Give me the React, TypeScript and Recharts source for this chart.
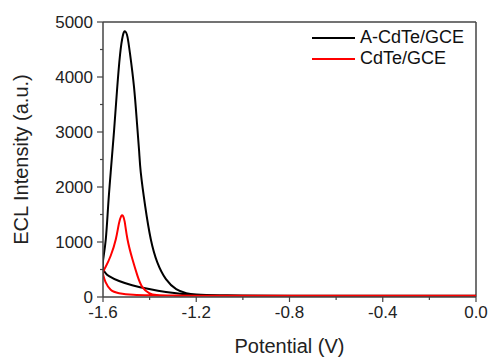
import React from "react";
import { LineChart, Line, XAxis, YAxis, ReferenceLine } from "recharts";

// A-CdTe/GCE: lower return branch (0 -> -1.6), then the peak branch (-1.6 -> 0)
const aPotential = [
  0.0, -0.4, -0.8, -1.0, -1.1, -1.19, -1.26, -1.33, -1.402, -1.475, -1.531,
  -1.574, -1.59, -1.6, -1.6, -1.599, -1.588, -1.578, -1.567, -1.553, -1.54,
  -1.527, -1.515, -1.505, -1.495, -1.484, -1.467, -1.454, -1.445, -1.438,
  -1.419, -1.395, -1.367, -1.33, -1.286, -1.243, -1.2, -1.1, -1.0, -0.8, -0.4,
  0.0,
];
const aIntensity = [
  25, 25, 25, 28, 32, 40, 55, 90, 145, 215, 290, 380, 440, 520, 620, 690, 1050,
  1650, 2265, 3000, 3750, 4400, 4750, 4830, 4730, 4420, 3820, 3150, 2650, 2265,
  1650, 1050, 630, 325, 145, 70, 45, 32, 28, 25, 25, 25,
];

// CdTe/GCE
const cPotential = [
  0.0, -0.4, -0.8, -1.2, -1.3, -1.4, -1.47, -1.531, -1.567, -1.589, -1.598,
  -1.6, -1.589, -1.567, -1.545, -1.532, -1.522, -1.515, -1.507, -1.495, -1.474,
  -1.452, -1.431, -1.402, -1.37, -1.3, -1.2, -0.8, 0.0,
];
const cIntensity = [
  22, 22, 22, 24, 27, 30, 40, 70, 130, 270, 380, 450, 545, 750, 1050, 1330,
  1470, 1480, 1370, 1050, 690, 385, 180, 70, 35, 25, 23, 22, 22,
];

const xTicks = [-1.6, -1.4, -1.2, -1.0, -0.8, -0.6, -0.4, -0.2, 0.0];
const xLabels = ["-1.6", "-1.2", "-0.8", "-0.4", "0.0"];
const yTicks = [0, 500, 1000, 1500, 2000, 2500, 3000, 3500, 4000, 4500, 5000];
const seriesNames = ["A-CdTe/GCE", "CdTe/GCE"];
const seriesColors = ["#000000", "#ff0000"];

const seriesA = aPotential.map((p, i) => ({ x: p, y: aIntensity[i] }));
const seriesC = cPotential.map((p, i) => ({ x: p, y: cIntensity[i] }));

const FONT = "'Liberation Sans', Arial, sans-serif";
const AXIS = "#444";

const XTick = (props: any) => {
  const { x, y, payload } = props;
  const v = payload.value as number;
  const label = v === 0 ? "0.0" : v.toFixed(1);
  const major = xLabels.includes(label);
  return (
    <g>
      <line x1={x} x2={x} y1={y} y2={y + (major ? 5 : 3)} stroke={AXIS} strokeWidth={1.2} />
      {major && (
        <text x={x} y={y + 21} textAnchor="middle" fontSize={17} fill="#222" fontFamily={FONT}>
          {label}
        </text>
      )}
    </g>
  );
};

const YTick = (props: any) => {
  const { x, y, payload } = props;
  const v = payload.value as number;
  const major = v % 1000 === 0;
  return (
    <g>
      <line x1={x} x2={x - (major ? 6 : 3)} y1={y} y2={y} stroke={AXIS} strokeWidth={1.2} />
      {major && (
        <text x={x - 10} y={y + 5.5} textAnchor="end" fontSize={17} fill="#222" fontFamily={FONT}>
          {v}
        </text>
      )}
    </g>
  );
};

const ChartLegend = () => (
  <div style={{ position: "absolute", top: 27, left: 312, fontFamily: FONT }}>
    {seriesNames.map((name, i) => (
      <div key={name} style={{ display: "flex", alignItems: "center", height: 21 }}>
        <div style={{ width: 43, height: 2, background: seriesColors[i], marginRight: 5 }} />
        <span style={{ fontSize: 18, color: "#111", lineHeight: "21px" }}>{name}</span>
      </div>
    ))}
  </div>
);

export default function App() {
  return (
    <div style={{ position: "absolute", left: 0, top: 0, width: 490, height: 358 }}>
      <LineChart
        width={490}
        height={358}
        margin={{ top: 22, right: 14, bottom: 0, left: 0 }}
        style={{ fontFamily: FONT }}
      >
        <XAxis
          type="number"
          dataKey="x"
          domain={[-1.6, 0]}
          ticks={xTicks}
          tick={<XTick />}
          tickSize={0}
          tickMargin={0}
          tickLine={false}
          axisLine={{ stroke: AXIS, strokeWidth: 1.5 }}
          height={61}
          allowDataOverflow
          label={{
            value: "Potential (V)",
            position: "insideBottom",
            offset: 5,
            style: { fontSize: 20, fill: "#222", fontFamily: FONT },
          }}
        />
        <YAxis
          type="number"
          dataKey="y"
          domain={[0, 5000]}
          ticks={yTicks}
          tick={<YTick />}
          tickSize={0}
          tickMargin={0}
          tickLine={false}
          axisLine={{ stroke: AXIS, strokeWidth: 1.5 }}
          width={103}
          allowDataOverflow
          label={{
            value: "ECL Intensity (a.u.)",
            angle: -90,
            position: "insideLeft",
            offset: 21,
            style: { fontSize: 20, fill: "#222", fontFamily: FONT, textAnchor: "middle" },
          }}
        />
        <ReferenceLine y={5000} stroke={AXIS} strokeWidth={1.5} />
        <ReferenceLine x={0} stroke={AXIS} strokeWidth={1.5} />
        <Line
          data={seriesA}
          dataKey="y"
          name={seriesNames[0]}
          type="natural"
          stroke={seriesColors[0]}
          strokeWidth={2}
          dot={false}
          isAnimationActive={false}
        />
        <Line
          data={seriesC}
          dataKey="y"
          name={seriesNames[1]}
          type="natural"
          stroke={seriesColors[1]}
          strokeWidth={2}
          dot={false}
          isAnimationActive={false}
        />
      </LineChart>
      <ChartLegend />
    </div>
  );
}
